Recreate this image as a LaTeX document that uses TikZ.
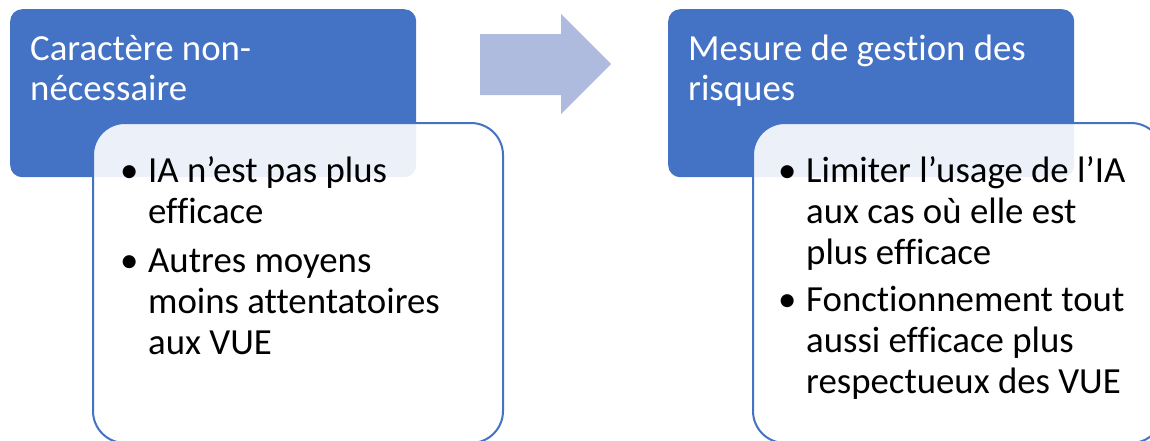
\documentclass[tikz,border=0pt]{standalone}
\usepackage{fontspec}
\setmainfont{Carlito}[Ligatures=NoCommon]
\definecolor{smartblue}{HTML}{4472C4}
\definecolor{arrowblue}{HTML}{AEBBDF}
\tikzset{
	titlebox/.style={fill=smartblue, rounded corners=12pt, inner sep=0pt, minimum width=406pt, minimum height=168pt, anchor=north west},
	listbox/.style={draw=smartblue, line width=2pt, fill=white, fill opacity=0.9, rounded corners=32pt, inner sep=0pt, minimum width=410pt, minimum height=320pt, anchor=north west},
	titletext/.style={text=white, anchor=base west, inner sep=0pt, font=\fontsize{36.8}{40}\selectfont},
	listtext/.style={anchor=base west, inner sep=0pt, font=\fontsize{36.8}{41}\selectfont},
}
\newcommand{\bul}{\makebox[28pt][l]{\textbullet}}
\begin{document}
\begin{tikzpicture}[x=1pt,y=-1pt]
	\clip (0,0) rectangle (1150,440);

	% left block
	\node[titlebox] (cause) at (10,9) {};
	\node[listbox] (causelist) at (92,122) {};
	\node[titletext] (causetitle) at (30,60) {\begin{tabular}[t]{@{}l@{}}Caractère non-\\nécessaire\end{tabular}};
	\node[listtext] (causeitems) at (120,182) {\begin{tabular}[t]{@{}l@{}l@{}}
		\bul & IA n’est pas plus\\
		& efficace\\[8pt]
		\bul & Autres moyens\\
		& moins attentatoires\\
		& aux VUE
	\end{tabular}};

	% arrow
	\fill[arrowblue] (480,34) -- (561,34) -- (561,14) -- (611,64) -- (561,114) -- (561,95) -- (480,95) -- cycle;

	% right block
	\node[titlebox] (measure) at (668,9) {};
	\node[listbox] (measurelist) at (752,122) {};
	\node[titletext] (measuretitle) at (688,60) {\begin{tabular}[t]{@{}l@{}}Mesure de gestion des\\risques\end{tabular}};
	\node[listtext] (measureitems) at (778,182) {\begin{tabular}[t]{@{}l@{}l@{}}
		\bul & Limiter l’usage de l’IA\\
		& aux cas où elle est\\
		& plus efficace\\[6pt]
		\bul & Fonctionnement tout\\
		& aussi efficace plus\\
		& respectueux des VUE
	\end{tabular}};

\end{tikzpicture}
\end{document}
